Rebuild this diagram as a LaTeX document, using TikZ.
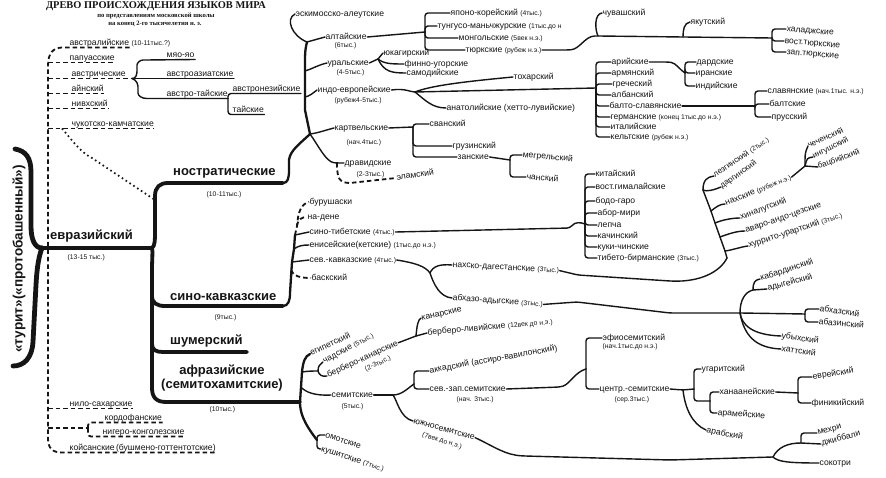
\documentclass[tikz,border=0pt]{standalone}
\usepackage{fontspec}
\setmainfont{Liberation Sans}
\newfontfamily\titlefont{Liberation Serif}
\usetikzlibrary{calc}
\definecolor{ink}{HTML}{151515}
\newcommand{\smallnote}[1]{{\fontsize{6.8}{7}\selectfont #1}}
\tikzset{
  lbl/.style={anchor=west, inner sep=0.5pt, text height=6pt, text depth=1.6pt,
    font=\fontsize{8.6}{9}\selectfont, text=ink},
  tightlbl/.style={lbl, inner sep=0pt, text height=5.6pt, text depth=1.4pt,
    font=\fontsize{8.1}{8.5}\selectfont},
  note/.style={anchor=west, inner sep=0.5pt, font=\fontsize{6.8}{7}\selectfont, text=ink},
  biglbl/.style={anchor=west, inner sep=1pt, font=\bfseries\fontsize{13}{14.5}\selectfont, text=ink},
  rootlbl/.style={inner sep=1pt, font=\bfseries\fontsize{13.6}{14}\selectfont, text=ink},
  titlelbl/.style={inner sep=0pt, font=\titlefont\bfseries\fontsize{10.4}{11}\selectfont, text=ink},
  sublbl/.style={inner sep=0pt, font=\titlefont\bfseries\fontsize{6.6}{7}\selectfont, text=ink},
  branch/.style={draw=ink, line width=1.4pt, line cap=round, rounded corners=3pt},
  trunk/.style={draw=ink, line width=2.3pt, line cap=round},
  bigline/.style={draw=ink, line width=3.8pt, line cap=round},
  rootline/.style={draw=ink, line width=4.8pt, line cap=round},
  hypo/.style={draw=ink, line width=1.8pt, dash pattern=on 4.5pt off 3pt},
  hypodots/.style={draw=ink, line width=1.7pt, dash pattern=on 1.6pt off 3pt}
}

\begin{document}
\begin{tikzpicture}[x=1pt, y=-1pt]
\fill[white] (0,0) rectangle (886,478);
\useasboundingbox (0,0) rectangle (886,478);

% Title block.
\node[titlelbl] (title) at (156,6.5) {ДРЕВО ПРОИСХОЖДЕНИЯ ЯЗЫКОВ МИРА};
\node[sublbl] (sub1) at (156,15.5) {по представлениям московской школы};
\node[sublbl] (sub2) at (155,23.5) {на конец 2-го тысячелетия н.~э.};

% Root and the Eurasian stem.
\node[rootlbl, rotate=90] (turit) at (19,259) {«турит»(«протобашенный»)};
\coordinate (rootTop) at (15,149);
\coordinate (rootJ) at (42,248);
\coordinate (rootBot) at (13,366);
\coordinate (evrJ) at (152,248);
\draw[rootline] (rootTop) .. controls (26,151) and (31,158) .. (31,172) -- (31,226)
  .. controls (31,240) and (35,248) .. (rootJ);
\draw[rootline] (rootJ) .. controls (39,256) and (37,266) .. (36,285) -- (33,342)
  .. controls (32,358) and (24,366) .. (rootBot);
\draw[bigline] (rootJ) -- (evrJ);

\node[biglbl] (evraz) at (49,236) {евразийский};
\node[note] (evrazN) at (67,258) {(13-15 тыс.)};

% Main families on the Eurasian stem.
\node[biglbl] (nostr) at (172,173) {ностратические};
\node[note] (nostrN) at (206,195) {(10-11тыс.)};
\node[biglbl] (sinocauc) at (169,297) {сино-кавказские};
\node[note] (sinocaucN) at (214,318) {(9тыс.)};
\node[biglbl] (sumer) at (169,341) {шумерский};
\node[biglbl, anchor=center, align=center] (afraz) at (222,378) {афразийские\\(семитохамитские)};
\node[note] (afrazN) at (209,410) {(10тыс.)};

\coordinate (nostrE) at (283,183);
\coordinate (scJ) at (152,296);
\coordinate (sumJ) at (152,344);
\coordinate (scE) at (283,306);
\coordinate (sumE) at (247,352);
\coordinate (afJ) at (300,402);
\draw[bigline] (evrJ) .. controls (155,246) and (155,240) .. (155,230) -- (155,196)
  .. controls (155,187) and (160,183) .. (168,183) -- (nostrE);
\draw[bigline] (evrJ) .. controls (153,252) and (152,258) .. (152,270) -- (152,388)
  .. controls (152,397) and (156,402) .. (166,402) -- (afJ);
\draw[bigline] (scJ) .. controls (152,303) and (157,306) .. (165,306) -- (scE);
\draw[bigline] (sumJ) .. controls (152,350) and (156,352) .. (163,352) -- (sumE);

% Hypothetical (dashed) families on the left.
\node[lbl] (austral) at (69,43) {австралийские};
\node[note, anchor=base west] (australN) at (austral.base east) {\,(10-11тыс.?)};
\node[lbl] (papuas) at (69,58) {папуасские};
\node[lbl] (austric) at (71,74) {австрические};
\node[lbl] (ainu) at (71,89) {айнский};
\node[lbl] (nivkh) at (71,104) {нивхский};
\node[lbl] (chukot) at (71,124) {чукотско-камчатские};
\node[lbl] (nilosah) at (69,404) {нило-сахарские};
\node[lbl] (kordof) at (104,418) {кордофанские};
\node[lbl] (nigcong) at (102,432) {нигеро-конголезские};
\node[lbl] (koisan) at (69,448) {койсанские\,(бушмено-готтентотские)};

\coordinate (spine) at (48,0);
\coordinate (dTop) at (62,47.5);
\coordinate (austricJ) at (132,78.5);
\coordinate (chukJ) at (62,128.5);
\coordinate (nostrC) at (155,200);
\coordinate (kordJ) at (88,428);
\draw[hypo] (austral.south east) -- (dTop) .. controls (53,48) and (48,53) .. (48,66)
  -- (48,438) .. controls (48,448) and (52,452.5) .. (62,452.5) -- (koisan.south east);
\draw[hypo] (spine |- papuas.south) -- (papuas.south east);
\draw[hypo] (spine |- austric.south) -- (austricJ);
\draw[hypo] (spine |- ainu.south) -- (ainu.south east);
\draw[hypo] (spine |- nivkh.south) -- (nivkh.south east);
\draw[hypo] (spine |- chukot.south) -- (chukot.south east);
\draw[hypodots] (chukJ) .. controls (72,140) and (80,152) .. (92,158) -- (nostrC);
\draw[hypo] (spine |- nilosah.south) -- (nilosah.south east);
\draw[hypo] (spine |- kordJ) -- (kordJ);
\draw[hypo, rounded corners=3pt] (kordJ) |- (kordof.south east);
\draw[hypo, rounded corners=3pt] (kordJ) |- (nigcong.south east);

% Austric group.
\node[lbl] (miao) at (166,55) {мяо-яо};
\node[lbl] (austroas) at (166,74) {австроазиатские};
\node[lbl] (austrotai) at (166,94) {австро-тайские};
\node[lbl] (austron) at (232,89) {австронезийские};
\node[lbl] (tai) at (232,110) {тайские};
\coordinate (atB) at (228,98.5);
\draw[branch] (austricJ) .. controls (136,79) and (137,74) .. (137,68)
  .. controls (137,63) and (140,60) .. (146,60) -- (miao.south east);
\draw[branch] (austricJ) -- (austroas.south east);
\draw[branch] (austricJ) .. controls (137,80) and (138,85) .. (138,90)
  .. controls (138,96) and (142,98.5) .. (150,98.5) -- (atB);
\draw[branch] (atB) |- (austron.south east);
\draw[branch] (atB) |- (tai.south east);

% Nostratic trunk.
\coordinate (kartJ) at (310,134);
\coordinate (nostrT) at (307,42);
\coordinate (uralJ) at (305,71);
\coordinate (ieJ) at (305,97);
\draw[trunk] (nostrE) .. controls (288,183) and (289,178) .. (289,170) -- (289,160)
  .. controls (290,150) and (302,142) .. (kartJ) -- (305,110) -- (305,60)
  .. controls (305,50) and (306,46) .. (nostrT);

% Eskimo-Aleut and Altaic.
\node[lbl] (eskimo) at (295,14) {эскимосско-алеутские};
\node[lbl] (altai) at (325,37) {алтайские};
\node[note] (altaiN) at (334,46) {(6тыс.)};
\draw[branch] (nostrT) .. controls (292,36) and (285,19) .. (eskimo.west);
\draw[branch] (nostrT) -- (altai.west);
\coordinate (altB) at (425,32);
\draw[branch] (altai.east) -- (altB);
\node[lbl] (japkor) at (450,13) {японо-корейский \smallnote{(4тыс.)}};
\node[lbl] (tungus) at (437,26) {тунгусо-маньчжурские \smallnote{(1тыс.до н}};
\node[lbl] (mongol) at (458,38) {монгольские \smallnote{(5век н.э.)}};
\node[lbl] (turk) at (465,50) {тюркские \smallnote{(рубеж н.э.)}};
\draw[branch] (altB) |- (japkor.west);
\draw[branch] (altB) |- (tungus.west);
\draw[branch] (altB) |- (mongol.west);
\draw[branch] (altB) |- (turk.west);

\coordinate (chuvJ) at (598,36);
\coordinate (yakJ) at (683,37);
\coordinate (turkB) at (772,38);
\draw[branch] (turk.east) -- (568,50) .. controls (580,49) and (585,36) .. (chuvJ) -- (yakJ) -- (turkB);
\node[lbl] (chuvash) at (602,13) {чувашский};
\node[lbl] (yakut) at (690,22) {якутский};
\draw[branch] (chuvJ) .. controls (595,30) and (594,14) .. (chuvash.west);
\draw[branch] (yakJ) .. controls (683,30) and (684,23) .. (yakut.west);
\node[lbl, rotate=-5] (khalaj) at (786,29) {халаджские};
\node[lbl, rotate=-5] (eturk) at (784,41) {вост.тюркские};
\node[lbl, rotate=-5] (wturk) at (786,52) {зап.тюркские};
\draw[branch] (turkB) |- (khalaj.west);
\draw[branch] (turkB) |- (eturk.west);
\draw[branch] (turkB) |- (wturk.west);

% Uralic.
\node[lbl] (ural) at (327,63) {уральские};
\node[note] (uralN) at (336,73) {(4-5тыс.)};
\draw[branch] (uralJ) .. controls (312,69) and (318,65) .. (ural.west);
\coordinate (uralB) at (378,59);
\draw[branch] (ural.east) -- (uralB);
\node[lbl] (yukag) at (383,53) {юкагирский};
\node[lbl] (finno) at (404,64) {финно-угорские};
\node[lbl] (samod) at (406,73) {самодийские};
\draw[branch] (uralB) .. controls (380,56) .. (yukag.west);
\draw[branch] (uralB) .. controls (384,64) and (392,64) .. (finno.west);
\draw[branch] (uralB) .. controls (384,72) and (392,73) .. (samod.west);

% Indo-European.
\node[lbl] (ie) at (317,90) {индо-европейские};
\node[note] (ieN) at (334,101) {(рубеж4-5тыс.)};
\draw[branch] (ieJ) .. controls (310,96) and (313,93) .. (ie.west);
\coordinate (ieB) at (415,92);
\coordinate (ieMB) at (596,88);
\draw[branch] (ie.east) .. controls (405,88) and (410,92) .. (ieB);
\node[lbl] (tochar) at (513,77) {тохарский};
\node[lbl] (anatol) at (446,108) {анатолийские (хетто-лувийские)};
\draw[branch] (ieB) .. controls (430,86) and (460,82) .. (tochar.west);
\draw[branch] (ieB) -- (ieMB);
\draw[branch] (ieB) .. controls (425,100) and (432,108) .. (anatol.west);

\node[lbl] (arya) at (611,62) {арийские};
\node[lbl] (armen) at (611,73) {армянский};
\node[lbl] (greek) at (612,84) {греческий};
\node[lbl] (alban) at (611,95) {албанский};
\node[lbl] (baltsl) at (609,106) {балто-славянские};
\node[lbl] (germ) at (610,117) {германские \smallnote{(конец 1тыс.до н.э.)}};
\node[lbl] (ital) at (610,127) {италийские};
\node[lbl] (celt) at (610,137) {кельтские \smallnote{(рубеж н.э.)}};
\draw[branch] (ieMB) |- (arya.west);
\draw[branch] (ieMB) |- (armen.west);
\draw[branch] (ieMB) |- (greek.west);
\draw[branch] (ieMB) |- (alban.west);
\draw[branch] (ieMB) |- (baltsl.west);
\draw[branch] (ieMB) |- (germ.west);
\draw[branch] (ieMB) |- (ital.west);
\draw[branch] (ieMB) |- (celt.west);

\coordinate (aryaB) at (685,73);
\draw[branch] (arya.east) -- (668,62) .. controls (676,63) and (680,70) .. (aryaB);
\node[lbl] (dard) at (696,62) {дардские};
\node[lbl] (iran) at (695,73) {иранские};
\node[lbl] (indic) at (695,86) {индийские};
\draw[branch] (aryaB) |- (dard.west);
\draw[branch] (aryaB) |- (iran.west);
\draw[branch] (aryaB) |- (indic.west);

\coordinate (bsB) at (755,106);
\draw[branch] (baltsl.east) -- (bsB);
\node[lbl] (slav) at (767,91) {славянские \smallnote{(нач.1тыс. н.э.)}};
\node[lbl] (balt) at (769,104) {балтские};
\node[lbl] (pruss) at (771,117) {прусский};
\draw[branch] (bsB) |- (slav.west);
\draw[branch] (bsB) |- (balt.west);
\draw[branch] (bsB) |- (pruss.west);

% Kartvelian and Dravidian.
\node[lbl] (kart) at (334,128) {картвельские};
\node[note] (kartN) at (346,143) {(нач.4тыс.)};
\draw[branch] (kartJ) .. controls (318,133) and (326,130) .. (kart.west);
\coordinate (kartB) at (413,127);
\draw[branch] (kart.east) -- (kartB);
\node[lbl] (svan) at (429,124) {сванский};
\node[lbl] (gruz) at (452,146) {грузинский};
\node[lbl] (zan) at (457,157) {занские};
\draw[branch] (kartB) |- (svan.west);
\draw[branch] (kartB) |- (gruz.west);
\draw[branch] (kartB) |- (zan.west);
\coordinate (zanB) at (510,160);
\draw[branch] (zan.east) -- (zanB);
\node[lbl, rotate=-5] (megrel) at (522,155) {мегрельский};
\node[lbl, rotate=-5] (chan) at (526,177) {чанский};
\draw[branch] (zanB) |- (megrel.west);
\draw[branch] (zanB) |- (chan.west);

\node[lbl] (drav) at (344,163) {дравидские};
\node[note] (dravN) at (356,175) {(2-3тыс.)};
\node[lbl, rotate=8] (elam) at (396,178) {эламский};
\coordinate (dravB) at (337,163);
\draw[branch] (kartJ) .. controls (318,145) and (326,162) .. (dravB) -- (drav.west);
\draw[hypo] (dravB) .. controls (337,178) and (339,183) .. (350,183) -- (elam.west);

% Sino-Caucasian trunk.
\coordinate (scB) at (292,262);
\coordinate (scC) at (294,249);
\coordinate (scD) at (295,235);
\coordinate (ndJ) at (297,226);
\coordinate (basJ) at (291,270);
\draw[trunk] (scE) .. controls (288,306) and (290,301) .. (290,293) -- (scB) -- (scC) -- (scD);
\node[lbl] (burush) at (309,202) {бурушаски};
\node[lbl] (nadene) at (307,217) {на-дене};
\node[lbl] (sinotib) at (309,232) {сино-тибетские \smallnote{(4тыс.)}};
\node[lbl] (yenis) at (309,245) {енисейские(кетские) \smallnote{(1тыс.до н.э.)}};
\node[lbl] (nocauc) at (309,260) {сев.-кавказские \smallnote{(4тыс.)}};
\node[lbl] (basque) at (311,278) {баскский};
\draw[hypo] (scD) -- (ndJ) .. controls (298,212) and (301,204) .. (burush.west);
\draw[hypo] (ndJ) .. controls (298,219) and (302,217) .. (nadene.west);
\draw[branch] (scD) -- (sinotib.west);
\draw[branch] (scC) .. controls (298,246) and (302,245) .. (yenis.west);
\draw[branch] (scB) -- (nocauc.west);
\draw[hypo] (basJ) .. controls (293,276) and (300,278) .. (basque.west);

% Sino-Tibetan.
\coordinate (stB) at (585,224);
\draw[branch] (sinotib.east) -- (440,231) -- (570,228) .. controls (575,222) and (580,222) .. (stB);
\node[lbl] (china) at (595,174) {китайский};
\node[lbl] (ehimal) at (595,187) {вост.гималайские};
\node[lbl] (bodo) at (595,201) {бодо-гаро};
\node[lbl] (abor) at (597,213) {абор-мири};
\node[lbl] (lepcha) at (597,225) {лепча};
\node[lbl] (kachin) at (597,236) {качинский};
\node[lbl] (kuki) at (597,247) {куки-чинские};
\node[lbl] (tibbirm) at (597,258) {тибето-бирманские \smallnote{(3тыс.)}};
\draw[branch] (stB) |- (china.west);
\draw[branch] (stB) |- (ehimal.west);
\draw[branch] (stB) |- (bodo.west);
\draw[branch] (stB) |- (abor.west);
\draw[branch] (stB) |- (lepcha.west);
\draw[branch] (stB) |- (kachin.west);
\draw[branch] (stB) |- (kuki.west);
\draw[branch] (stB) |- (tibbirm.west);

% North Caucasian.
\coordinate (ncJ) at (430,273);
\draw[branch] (nocauc.east) .. controls (415,263) and (425,266) .. (ncJ);
\node[lbl, rotate=-3] (nakhdag) at (452,265) {нахско-дагестанские \smallnote{(3тыс.)}};
\node[lbl, rotate=-4] (abkhad) at (452,298) {абхазо-адыгские \smallnote{(3тыс.)}};
\draw[branch] (ncJ) .. controls (433,266) and (440,264) .. (nakhdag.west);
\draw[branch] (ncJ) .. controls (434,285) and (440,297) .. (abkhad.west);

\coordinate (necB) at (727,258);
\coordinate (hurrJ) at (725,251);
\coordinate (avarJ) at (720,237);
\coordinate (hinJ) at (715,223);
\coordinate (nakhJ) at (711,211);
\coordinate (lezB) at (703,190);
\draw[branch] (nakhdag.east) -- (578,275) -- (670,281) .. controls (700,282) and (720,272) .. (necB);
\draw[branch] (necB) -- (hurrJ) -- (avarJ) -- (hinJ) -- (nakhJ) -- (lezB);
\node[lbl, rotate=18] (hurr) at (748,246) {хуррито-урартский \smallnote{(3тыс.)}};
\node[lbl, rotate=19] (avar) at (745,231) {аваро-андо-цезские};
\node[lbl, rotate=21] (hinal) at (740,218) {хиналугский};
\node[lbl, rotate=22] (nakh) at (725,204) {нахские \smallnote{(рубеж н.э.)}};
\node[tightlbl, rotate=34] (lezg) at (714,176) {лезгинский \smallnote{(2тыс.)}};
\node[tightlbl, rotate=35] (darg) at (721,187) {даргинский};
\draw[branch] (hurrJ) .. controls (733,250) and (740,247) .. (hurr.west);
\draw[branch] (avarJ) .. controls (728,234) and (737,231) .. (avar.west);
\draw[branch] (hinJ) .. controls (722,220) and (732,218) .. (hinal.west);
\draw[branch] (nakhJ) .. controls (716,207) and (720,204) .. (nakh.west);
\draw[branch] (lezB) .. controls (703,180) and (707,177) .. (lezg.west);
\draw[branch] (lezB) .. controls (706,192) and (714,190) .. (darg.west);

\coordinate (nakhB) at (805,166);
\draw[branch] (nakh.east) -- (nakhB);
\node[tightlbl, rotate=24] (chech) at (808,146) {чеченский};
\node[tightlbl, rotate=27] (ingush) at (813,157) {ингушский};
\node[tightlbl, rotate=20] (batsb) at (818,167) {бацбийский};
\draw[branch] (nakhB) .. controls (805,153) .. (chech.west);
\draw[branch] (nakhB) .. controls (807,158) .. (ingush.west);
\draw[branch] (nakhB) -- (batsb.west);

% Abkhaz-Adyghe.
\coordinate (abJ) at (740,313);
\coordinate (abzB) at (805,314);
\coordinate (kabB) at (753,290);
\draw[branch] (abkhad.east) -- (577,302) -- (670,313) -- (abJ) -- (abzB);
\node[lbl, rotate=18] (kabard) at (760,279) {кабардинский};
\node[lbl, rotate=15] (adyg) at (767,289) {адыгейский};
\draw[branch] (abJ) .. controls (740,300) and (745,292) .. (kabB);
\draw[branch] (kabB) .. controls (753,282) and (755,280) .. (kabard.west);
\draw[branch] (kabB) -- (adyg.west);
\node[lbl, rotate=-8] (abkhaz) at (819,309) {абхазский};
\node[lbl, rotate=-5] (abaza) at (818,322) {абазинский};
\draw[branch] (abzB) |- (abkhaz.west);
\draw[branch] (abzB) |- (abaza.west);
\node[lbl, rotate=-8] (ubykh) at (781,336) {убыхский};
\node[lbl, rotate=-8] (hatt) at (781,349) {хаттский};
\draw[branch] (abJ) .. controls (742,325) and (752,335) .. (ubykh.west);
\draw[branch] (abJ) .. controls (744,335) and (755,348) .. (hatt.west);

% Afrasian.
\coordinate (chJ) at (302,372);
\coordinate (semJ) at (301,387);
\coordinate (chadB) at (318,371);
\coordinate (omB) at (317,440);
\node[lbl, rotate=25] (egypt) at (310,354) {египетский};
\node[lbl, rotate=28] (chad) at (323,362) {чадские \smallnote{(5тыс.)}};
\node[lbl, rotate=25] (berb) at (327,376) {берберо-канарские};
\node[note, anchor=center, rotate=25] (berbN) at (378,364) {(2-3тыс.)};
\node[lbl] (semit) at (331,395) {семитские};
\node[note] (semitN) at (341,407) {(5тыс.)};
\node[lbl, rotate=-18] (omot) at (325,435) {омотские};
\node[lbl, rotate=-18] (kush) at (321,449) {кушитские \smallnote{(7тыс.)}};
\draw[trunk] (afJ) -- (chJ) .. controls (303,362) and (305,356) .. (egypt.west);
\draw[trunk] (afJ) .. controls (300,412) and (303,422) .. (omB);
\draw[branch] (chJ) .. controls (308,371) and (314,371) .. (chadB);
\draw[branch] (chadB) .. controls (318,366) and (320,364) .. (chad.west);
\draw[branch] (chadB) .. controls (319,375) and (322,377) .. (berb.west);
\draw[branch] (semJ) .. controls (305,392) and (315,396) .. (semit.west);
\draw[branch] (omB) |- (omot.west);
\draw[branch] (omB) |- (kush.west);

\coordinate (bbB) at (416,336);
\draw[branch] (berb.east) -- (bbB);
\node[lbl, rotate=12] (canar) at (421,318) {канарские};
\node[lbl, rotate=5] (berbliv) at (427,333) {берберо-ливийские \smallnote{(12век до н.э.)}};
\draw[branch] (bbB) .. controls (417,325) and (418,320) .. (canar.west);
\draw[branch] (bbB) -- (berbliv.west);

% Semitic.
\coordinate (semB) at (393,395);
\coordinate (semB2) at (414,384);
\draw[branch] (semit.east) -- (semB);
\draw[branch] (semB) .. controls (402,395) and (408,388) .. (semB2);
\node[lbl, rotate=10] (akkad) at (429,371) {аккадский (ассиро-вавилонский)};
\node[lbl] (nwsem) at (429,389) {сев.-зап.семитские};
\node[note] (nwsemN) at (456,400) {(нач. 3тыс.)};
\draw[branch] (semB2) |- (akkad.west);
\draw[branch] (semB2) |- (nwsem.west);
\node[lbl, rotate=-15] (ssem) at (413,421) {южносемитские};
\node[note, anchor=center, rotate=-18] (ssemN) at (442,441) {(7век до н.э.)};
\draw[branch] (semB) .. controls (397,400) and (400,418) .. (ssem.west);

\coordinate (nwB) at (586,369);
\draw[branch] (nwsem.east) -- (560,387) .. controls (570,384) and (575,372) .. (nwB);
\node[lbl] (ethio) at (602,338) {эфиосемитский};
\node[note] (ethioN) at (602,347) {(нач.1тыс.до н.э.)};
\node[lbl] (csem) at (599,389) {центр.-семитские};
\node[note] (csemN) at (614,400) {(сер.3тыс.)};
\draw[branch] (nwB) |- (ethio.west);
\draw[branch] (nwB) |- (csem.west);

\coordinate (csB) at (683,390);
\coordinate (ugB) at (694,389);
\coordinate (hanB) at (710,401);
\draw[branch] (csem.east) -- (csB) -- (ugB);
\node[lbl] (ugar) at (701,369) {угаритский};
\node[lbl] (hanaan) at (719,392) {ханаанейские};
\node[lbl, rotate=-4] (aram) at (717,413) {арамейские};
\node[lbl, rotate=-12] (arab) at (706,430) {арабский};
\draw[branch] (ugB) |- (ugar.west);
\draw[branch] (ugB) |- (hanB);
\draw[branch] (hanB) |- (hanaan.west);
\draw[branch] (hanB) |- (aram.west);
\draw[branch] (csB) .. controls (685,408) and (692,424) .. (arab.west);

\coordinate (hnB) at (798,393);
\draw[branch] (hanaan.east) -- (hnB);
\node[lbl, rotate=8] (hebrew) at (812,377) {еврейский};
\node[lbl] (phoen) at (811,403) {финикийский};
\draw[branch] (hnB) |- (hebrew.west);
\draw[branch] (hnB) |- (phoen.west);

\coordinate (ssB) at (773,457);
\coordinate (mehB) at (801,443);
\draw[branch] (ssem.east) .. controls (495,447) and (505,455) .. (525,456) -- (670,460) -- (ssB);
\node[lbl, rotate=15] (mehri) at (817,433) {мехри};
\node[lbl, rotate=15] (jibb) at (821,444) {джиббали};
\node[lbl] (socotri) at (819,463) {сокотри};
\draw[branch] (ssB) .. controls (778,447) and (788,443) .. (mehB);
\draw[branch] (mehB) |- (mehri.west);
\draw[branch] (mehB) -- (jibb.west);
\draw[branch] (ssB) .. controls (778,462) and (790,463) .. (socotri.west);

\end{tikzpicture}
\end{document}
